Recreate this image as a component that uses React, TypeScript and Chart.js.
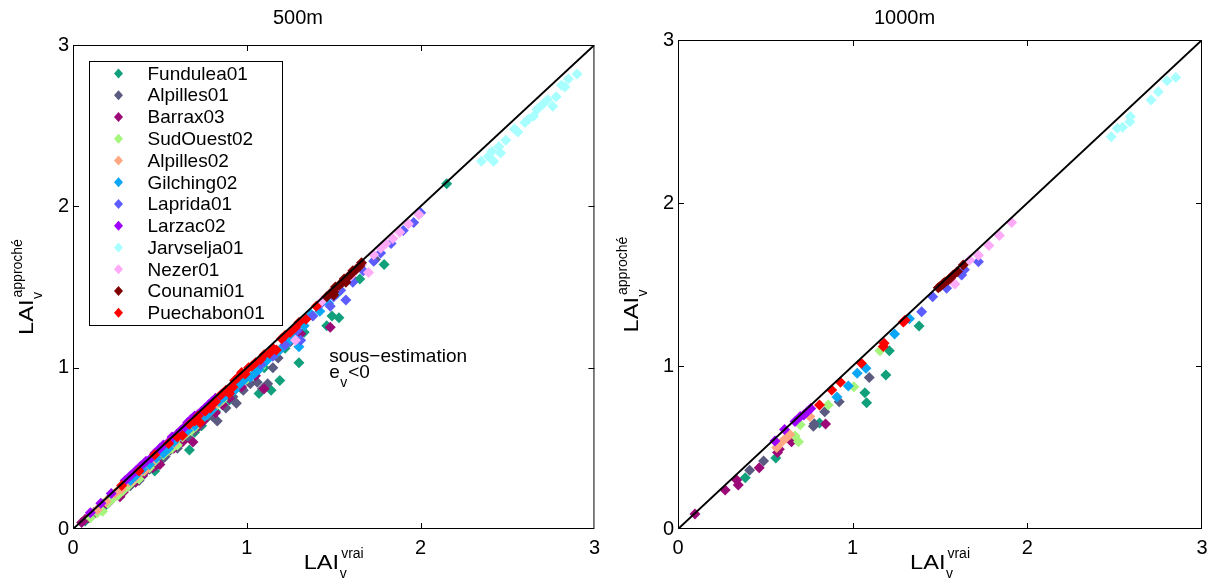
import React, { useEffect, useRef } from 'react';
import { Chart, registerables } from 'chart.js';

Chart.register(...registerables);

const FONT = '"Liberation Sans", Arial, Helvetica, sans-serif';

const SERIES_NAMES = ['Fundulea01', 'Alpilles01', 'Barrax03', 'SudOuest02', 'Alpilles02', 'Gilching02', 'Laprida01', 'Larzac02', 'Jarvselja01', 'Nezer01', 'Counami01', 'Puechabon01'];
const SERIES_COLORS = ['#12a07c', '#5b5b82', '#9c0a78', '#a6f57c', '#ffa882', '#0aa6f7', '#5c5cff', '#a000ff', '#a8ffff', '#ffaaf8', '#800000', '#ff0000'];
const PANEL_TITLES = ['500m', '1000m'];
const AXIS_TICKS = [0, 1, 2, 3];
const DIAGONAL = [0, 3];

// ---------- 500m ----------
const FUNDULEA_500 = [[0.07,0.05],[0.12,0.1],[0.18,0.14],[0.2,0.18],[0.26,0.22],[0.3,0.26],[0.33,0.27],[0.4,0.33],[0.45,0.4],[0.47,0.36],[0.52,0.44],[0.55,0.5],[0.6,0.53],[0.62,0.55],[0.67,0.49],[0.7,0.6],[0.74,0.64],[0.78,0.7],[0.82,0.73],[0.86,0.77],[0.9,0.8],[0.97,0.87],[1.0,0.93],[1.07,0.84],[1.1,1.0],[1.14,0.86],[1.19,0.92],[1.22,1.12],[1.3,1.03],[1.33,1.22],[1.46,1.26],[1.49,1.32],[1.53,1.31],[1.65,1.55],[1.79,1.64],[2.15,2.14]];
const ALPILLES01_500 = [[0.13,0.1],[0.2,0.16],[0.23,0.2],[0.27,0.21],[0.33,0.27],[0.36,0.31],[0.38,0.3],[0.44,0.37],[0.48,0.39],[0.5,0.42],[0.53,0.45],[0.56,0.49],[0.6,0.5],[0.63,0.56],[0.66,0.57],[0.7,0.61],[0.73,0.64],[0.76,0.68],[0.8,0.7],[0.83,0.67],[0.88,0.75],[0.92,0.82],[0.94,0.78],[0.98,0.86],[1.02,0.9],[1.06,0.91],[1.09,0.87],[1.12,0.9],[1.15,1.0],[1.18,1.06],[1.25,1.16],[1.6,1.56],[1.74,1.67]];
const BARRAX03_500 = [[0.05,0.04],[0.07,0.06],[0.09,0.07],[0.11,0.09],[0.12,0.1],[0.15,0.13],[0.17,0.15],[0.19,0.16],[0.21,0.17],[0.22,0.2],[0.25,0.21],[0.27,0.2],[0.29,0.23],[0.3,0.25],[0.32,0.27],[0.34,0.3],[0.36,0.29],[0.38,0.33],[0.4,0.33],[0.42,0.36],[0.44,0.4],[0.46,0.38],[0.5,0.4],[0.55,0.49],[0.58,0.5],[0.6,0.55],[0.63,0.54],[0.66,0.6],[0.69,0.54],[0.72,0.64],[0.75,0.67],[0.82,0.72],[0.86,0.77],[0.9,0.81],[0.97,0.88],[1.05,0.95],[1.1,0.87],[1.31,1.21],[1.48,1.25]];
const SUDOUEST02_500 = [[0.1,0.07],[0.14,0.1],[0.17,0.11],[0.2,0.16],[0.23,0.19],[0.26,0.21],[0.29,0.24],[0.32,0.27],[0.35,0.3],[0.38,0.31],[0.41,0.36],[0.44,0.38],[0.47,0.42],[0.52,0.46],[0.55,0.49],[0.57,0.5],[0.6,0.52],[0.63,0.57],[0.66,0.6],[0.68,0.61],[0.71,0.64],[0.74,0.68],[0.77,0.71],[0.8,0.74],[0.83,0.77],[0.86,0.8],[0.92,0.86],[1.0,0.93],[1.08,1.0]];
const ALPILLES02_500 = [[0.14,0.12],[0.19,0.17],[0.24,0.22],[0.26,0.24],[0.28,0.25],[0.32,0.29],[0.34,0.3],[0.36,0.32],[0.38,0.35],[0.4,0.36],[0.42,0.37],[0.44,0.41],[0.46,0.42],[0.48,0.45],[0.5,0.46],[0.52,0.48],[0.54,0.5],[0.56,0.51],[0.58,0.53],[0.6,0.56],[0.62,0.58],[0.64,0.6],[0.66,0.61],[0.68,0.63],[0.7,0.65],[0.72,0.67],[0.74,0.69],[0.76,0.71],[0.78,0.73],[0.8,0.76],[0.82,0.77],[0.85,0.8],[0.9,0.85],[0.95,0.9]];
const GILCHING02_500 = [[0.33,0.3],[0.36,0.33],[0.4,0.37],[0.44,0.4],[0.48,0.44],[0.52,0.47],[0.55,0.5],[0.58,0.54],[0.62,0.58],[0.66,0.61],[0.7,0.64],[0.74,0.68],[0.77,0.71],[0.8,0.74],[0.84,0.79],[0.87,0.82],[0.9,0.84],[0.93,0.86],[0.96,0.9],[0.99,0.93],[1.02,0.94],[1.05,0.97],[1.07,0.99],[1.1,1.03],[1.12,1.05],[1.15,1.08],[1.17,1.09],[1.2,1.12],[1.22,1.14],[1.25,1.17],[1.27,1.19],[1.3,1.13],[1.33,1.26],[1.37,1.33],[1.42,1.35],[1.47,1.4],[1.52,1.46]];
const LAPRIDA01_500 = [[1.08,1.02],[1.15,1.07],[1.22,1.14],[1.29,1.23],[1.31,1.17],[1.38,1.32],[1.42,1.39],[1.48,1.38],[1.5,1.44],[1.54,1.48],[1.57,1.42],[1.61,1.53],[1.67,1.6],[1.73,1.66],[1.77,1.71],[1.83,1.77],[1.9,1.85],[1.96,1.9],[2.0,1.96]];
const LARZAC02_500 = [[0.1,0.1],[0.16,0.16],[0.22,0.22],[0.3,0.3],[0.33,0.33],[0.36,0.36],[0.39,0.39],[0.42,0.42],[0.45,0.44],[0.47,0.47],[0.5,0.5],[0.52,0.52],[0.55,0.54],[0.57,0.57],[0.6,0.59],[0.62,0.61],[0.64,0.63],[0.66,0.66],[0.68,0.68],[0.7,0.7],[0.72,0.71],[0.74,0.73],[0.76,0.75],[0.78,0.77],[0.8,0.79],[0.82,0.81],[0.86,0.84]];
const JARVSELJA01_500 = [[2.35,2.28],[2.39,2.31],[2.41,2.34],[2.42,2.28],[2.45,2.37],[2.46,2.33],[2.49,2.41],[2.54,2.48],[2.56,2.46],[2.6,2.52],[2.62,2.54],[2.65,2.56],[2.67,2.6],[2.7,2.63],[2.73,2.66],[2.76,2.62],[2.78,2.68],[2.81,2.75],[2.83,2.74],[2.85,2.79],[2.9,2.82]];
const NEZER01_500 = [[1.28,1.17],[1.43,1.41],[1.52,1.5],[1.6,1.57],[1.66,1.64],[1.7,1.59],[1.73,1.7],[1.77,1.74],[1.8,1.77],[1.84,1.8],[1.88,1.84],[1.93,1.89],[1.99,1.95]];
const COUNAMI01_500 = [[1.46,1.44],[1.48,1.46],[1.5,1.47],[1.51,1.5],[1.53,1.51],[1.55,1.53],[1.56,1.55],[1.58,1.56],[1.6,1.58],[1.61,1.6],[1.63,1.61],[1.65,1.63],[1.66,1.65],[1.5,1.45],[1.57,1.53]];
const PUECHABON01_500 = [[0.28,0.27],[0.38,0.36],[0.47,0.46],[0.55,0.53],[0.6,0.57],[0.63,0.58],[0.67,0.65],[0.7,0.67],[0.72,0.7],[0.73,0.66],[0.76,0.73],[0.79,0.75],[0.8,0.77],[0.82,0.79],[0.85,0.83],[0.88,0.86],[0.9,0.84],[0.92,0.88],[0.93,0.92],[0.95,0.94],[0.97,0.97],[0.99,0.96],[1.01,1.0],[1.03,1.01],[1.05,1.03],[1.08,1.05],[1.1,1.08],[1.13,1.09],[1.15,1.12],[1.17,1.11],[1.2,1.18],[1.22,1.2],[1.25,1.22],[1.28,1.25],[1.3,1.28],[1.34,1.3],[1.4,1.38]];

// ---------- 1000m ----------
const FUNDULEA_1000 = [[0.385,0.315],[0.56,0.435],[0.81,0.65],[1.07,0.836],[1.08,0.775],[1.19,0.945],[1.21,1.094],[1.38,1.245]];
const ALPILLES01_1000 = [[0.41,0.36],[0.49,0.417],[0.775,0.63],[0.78,0.645],[0.84,0.72],[0.923,0.78],[1.095,0.93]];
const BARRAX03_1000 = [[0.097,0.092],[0.27,0.24],[0.336,0.3],[0.345,0.27],[0.465,0.376],[0.57,0.47],[0.58,0.49],[0.65,0.535],[0.845,0.644]];
const SUDOUEST02_1000 = [[0.67,0.57],[0.69,0.535],[0.7,0.64],[0.86,0.76],[1.007,0.873],[1.156,1.094]];
const ALPILLES02_1000 = [[0.565,0.5],[0.59,0.53],[0.62,0.56],[0.64,0.58],[0.755,0.69]];
const GILCHING02_1000 = [[0.91,0.81],[0.975,0.877],[1.026,0.955],[1.076,0.986],[1.24,1.196],[1.325,1.29]];
const LAPRIDA01_1000 = [[1.395,1.333],[1.458,1.425],[1.538,1.477],[1.624,1.558],[1.64,1.59],[1.72,1.64]];
const LARZAC02_1000 = [[0.555,0.54],[0.61,0.61],[0.67,0.66],[0.7,0.69],[0.72,0.7],[0.74,0.72],[0.76,0.74]];
const JARVSELJA01_1000 = [[2.48,2.407],[2.515,2.458],[2.545,2.464],[2.587,2.499],[2.59,2.53],[2.708,2.632],[2.75,2.683],[2.8,2.75],[2.85,2.77]];
const NEZER01_1000 = [[1.585,1.503],[1.67,1.65],[1.72,1.68],[1.78,1.74],[1.84,1.8],[1.91,1.88]];
const COUNAMI01_1000 = [[1.49,1.48],[1.5,1.487],[1.52,1.507],[1.53,1.515],[1.547,1.528],[1.56,1.54],[1.576,1.558],[1.6,1.58],[1.633,1.62]];
const PUECHABON01_1000 = [[0.81,0.76],[0.88,0.853],[0.93,0.9],[1.05,1.017],[1.175,1.12],[1.18,1.14],[1.29,1.27],[1.3,1.28]];

const PANEL_500 = [FUNDULEA_500, ALPILLES01_500, BARRAX03_500, SUDOUEST02_500, ALPILLES02_500, GILCHING02_500, LAPRIDA01_500, LARZAC02_500, JARVSELJA01_500, NEZER01_500, COUNAMI01_500, PUECHABON01_500];
const PANEL_1000 = [FUNDULEA_1000, ALPILLES01_1000, BARRAX03_1000, SUDOUEST02_1000, ALPILLES02_1000, GILCHING02_1000, LAPRIDA01_1000, LARZAC02_1000, JARVSELJA01_1000, NEZER01_1000, COUNAMI01_1000, PUECHABON01_1000];

const ANNOTATION_LINE1 = 'sous\u2212estimation';
const ANNOTATION_POS = [1.474, 1.035];

function drawLAI(ctx: CanvasRenderingContext2D, cx: number, cy: number, angle: number, sub: string, sup: string) {
  const stretch = 1.18;
  ctx.save();
  ctx.translate(cx, cy);
  ctx.rotate(angle);
  ctx.fillStyle = '#000';
  ctx.textBaseline = 'alphabetic';
  ctx.textAlign = 'left';
  ctx.font = `20px ${FONT}`;
  const wMain = ctx.measureText('LAI').width * stretch;
  ctx.font = `14px ${FONT}`;
  const wSup = ctx.measureText(sup).width;
  const wSub = ctx.measureText(sub).width;
  const total = wMain + 2 + Math.max(wSup, wSub);
  const x0 = -total / 2;
  ctx.save();
  ctx.translate(x0, 0);
  ctx.scale(stretch, 1);
  ctx.font = `20px ${FONT}`;
  ctx.fillText('LAI', 0, 0);
  ctx.restore();
  ctx.font = `14px ${FONT}`;
  ctx.fillText(sup, x0 + wMain + 2, -11.5);
  ctx.fillText(sub, x0 + wMain + 0.5, 9);
  ctx.restore();
}

function makeDecor(isLeft: boolean) {
  return {
    id: 'decor' + (isLeft ? 'L' : 'R'),
    afterDraw(chart: any) {
      const ctx: CanvasRenderingContext2D = chart.ctx;
      const { left, right, top, bottom } = chart.chartArea;
      const xs = chart.scales.x;
      const ys = chart.scales.y;
      ctx.save();
      ctx.strokeStyle = '#000';
      ctx.lineWidth = 1;
      ctx.strokeRect(left + 0.5, top + 0.5, right - left - 1, bottom - top - 1);
      ctx.beginPath();
      for (const v of AXIS_TICKS.slice(1, -1)) {
        const px = Math.round(xs.getPixelForValue(v)) + 0.5;
        ctx.moveTo(px, bottom); ctx.lineTo(px, bottom - 6);
        ctx.moveTo(px, top); ctx.lineTo(px, top + 6);
        const py = Math.round(ys.getPixelForValue(v)) + 0.5;
        ctx.moveTo(left, py); ctx.lineTo(left + 6, py);
        ctx.moveTo(right, py); ctx.lineTo(right - 6, py);
      }
      ctx.stroke();
      ctx.restore();

      drawLAI(ctx, (left + right) / 2, bottom + 40, 0, 'v', 'vrai');
      drawLAI(ctx, left - 40, (top + bottom) / 2, -Math.PI / 2, 'v', 'approch\u00e9');

      if (isLeft) {
        const bx = left + 16.5, by = top + 16.5, bw = 193, bh = 264;
        ctx.save();
        ctx.fillStyle = '#fff';
        ctx.fillRect(bx, by, bw, bh);
        ctx.strokeStyle = '#000';
        ctx.lineWidth = 1;
        ctx.strokeRect(bx, by, bw, bh);
        ctx.font = `19px ${FONT}`;
        ctx.textBaseline = 'middle';
        ctx.textAlign = 'left';
        SERIES_NAMES.forEach((name, i) => {
          const cy = by + 12 + i * 21.76;
          const mx = bx + 29;
          ctx.fillStyle = SERIES_COLORS[i];
          ctx.beginPath();
          ctx.moveTo(mx - 4.5, cy);
          ctx.lineTo(mx, cy - 5);
          ctx.lineTo(mx + 4.5, cy);
          ctx.lineTo(mx, cy + 5);
          ctx.closePath();
          ctx.fill();
          ctx.fillStyle = '#000';
          ctx.fillText(name, bx + 58, cy + 1);
        });
        ctx.restore();

        const ax = xs.getPixelForValue(ANNOTATION_POS[0]);
        const ay = ys.getPixelForValue(ANNOTATION_POS[1]);
        ctx.save();
        ctx.fillStyle = '#000';
        ctx.textBaseline = 'alphabetic';
        ctx.textAlign = 'left';
        ctx.font = `19px ${FONT}`;
        ctx.fillText(ANNOTATION_LINE1, ax, ay);
        ctx.fillText('e', ax, ay + 16);
        const we = ctx.measureText('e').width;
        ctx.font = `14px ${FONT}`;
        ctx.fillText('v', ax + we + 0.5, ay + 25);
        const wv = ctx.measureText('v').width;
        ctx.font = `19px ${FONT}`;
        ctx.fillText('<0', ax + we + wv + 1.5, ay + 16);
        ctx.restore();
      }
    },
  };
}

function Panel({ panel, title, isLeft, x, width }: any) {
  const ref = useRef<HTMLCanvasElement>(null);
  useEffect(() => {
    const canvas = ref.current!;
    const datasets: any[] = SERIES_NAMES.map((name, i) => ({
      type: 'scatter',
      label: name,
      data: panel[i].map((p: number[]) => ({ x: p[0], y: p[1] })),
      backgroundColor: SERIES_COLORS[i],
      borderColor: SERIES_COLORS[i],
      pointStyle: 'rectRot',
      pointRadius: 5.5,
      pointBorderWidth: 0,
      order: SERIES_NAMES.length - i,
    }));
    datasets.push({
      type: 'line',
      label: 'y=x',
      data: DIAGONAL.map((v) => ({ x: v, y: v })),
      borderColor: '#000',
      borderWidth: 2,
      pointRadius: 0,
      showLine: true,
      fill: false,
      order: 0,
    });
    const plotTop = isLeft ? 45 : 40;
    const chart = new Chart(canvas, {
      type: 'scatter',
      data: { datasets },
      options: {
        animation: false,
        responsive: false,
        events: [],
        layout: { padding: { left: 0, right: isLeft ? 11 : 13, top: 0, bottom: 0 } },
        plugins: {
          legend: { display: false },
          tooltip: { enabled: false },
          title: {
            display: true,
            text: title,
            color: '#000',
            font: { family: FONT, size: 20, weight: 'normal' },
            padding: { top: 6, bottom: plotTop - 6 - 24 },
          },
        },
        scales: {
          x: {
            type: 'linear',
            min: 0,
            max: 3,
            ticks: { stepSize: 1, color: '#000', font: { family: FONT, size: 20 }, padding: 7, maxRotation: 0, autoSkip: false },
            grid: { display: false, drawTicks: false },
            border: { display: false },
            afterFit: (s: any) => { s.height = 52; },
          },
          y: {
            type: 'linear',
            min: 0,
            max: 3,
            ticks: { stepSize: 1, color: '#000', font: { family: FONT, size: 20 }, padding: 4, autoSkip: false },
            grid: { display: false, drawTicks: false },
            border: { display: false },
            afterFit: (s: any) => { s.width = isLeft ? 73 : 71; },
          },
        },
      },
      plugins: [makeDecor(isLeft)],
    } as any);
    return () => chart.destroy();
  }, []);
  return (
    <canvas
      ref={ref}
      width={width}
      height={581}
      style={{ position: 'absolute', left: x, top: 0, width, height: 581 }}
    />
  );
}

export default function App() {
  return (
    <div style={{ position: 'absolute', left: 0, top: 0, width: 1215, height: 581, background: '#fff' }}>
      <Panel panel={PANEL_500} title={PANEL_TITLES[0]} isLeft={true} x={0} width={607} />
      <Panel panel={PANEL_1000} title={PANEL_TITLES[1]} isLeft={false} x={607} width={608} />
    </div>
  );
}
